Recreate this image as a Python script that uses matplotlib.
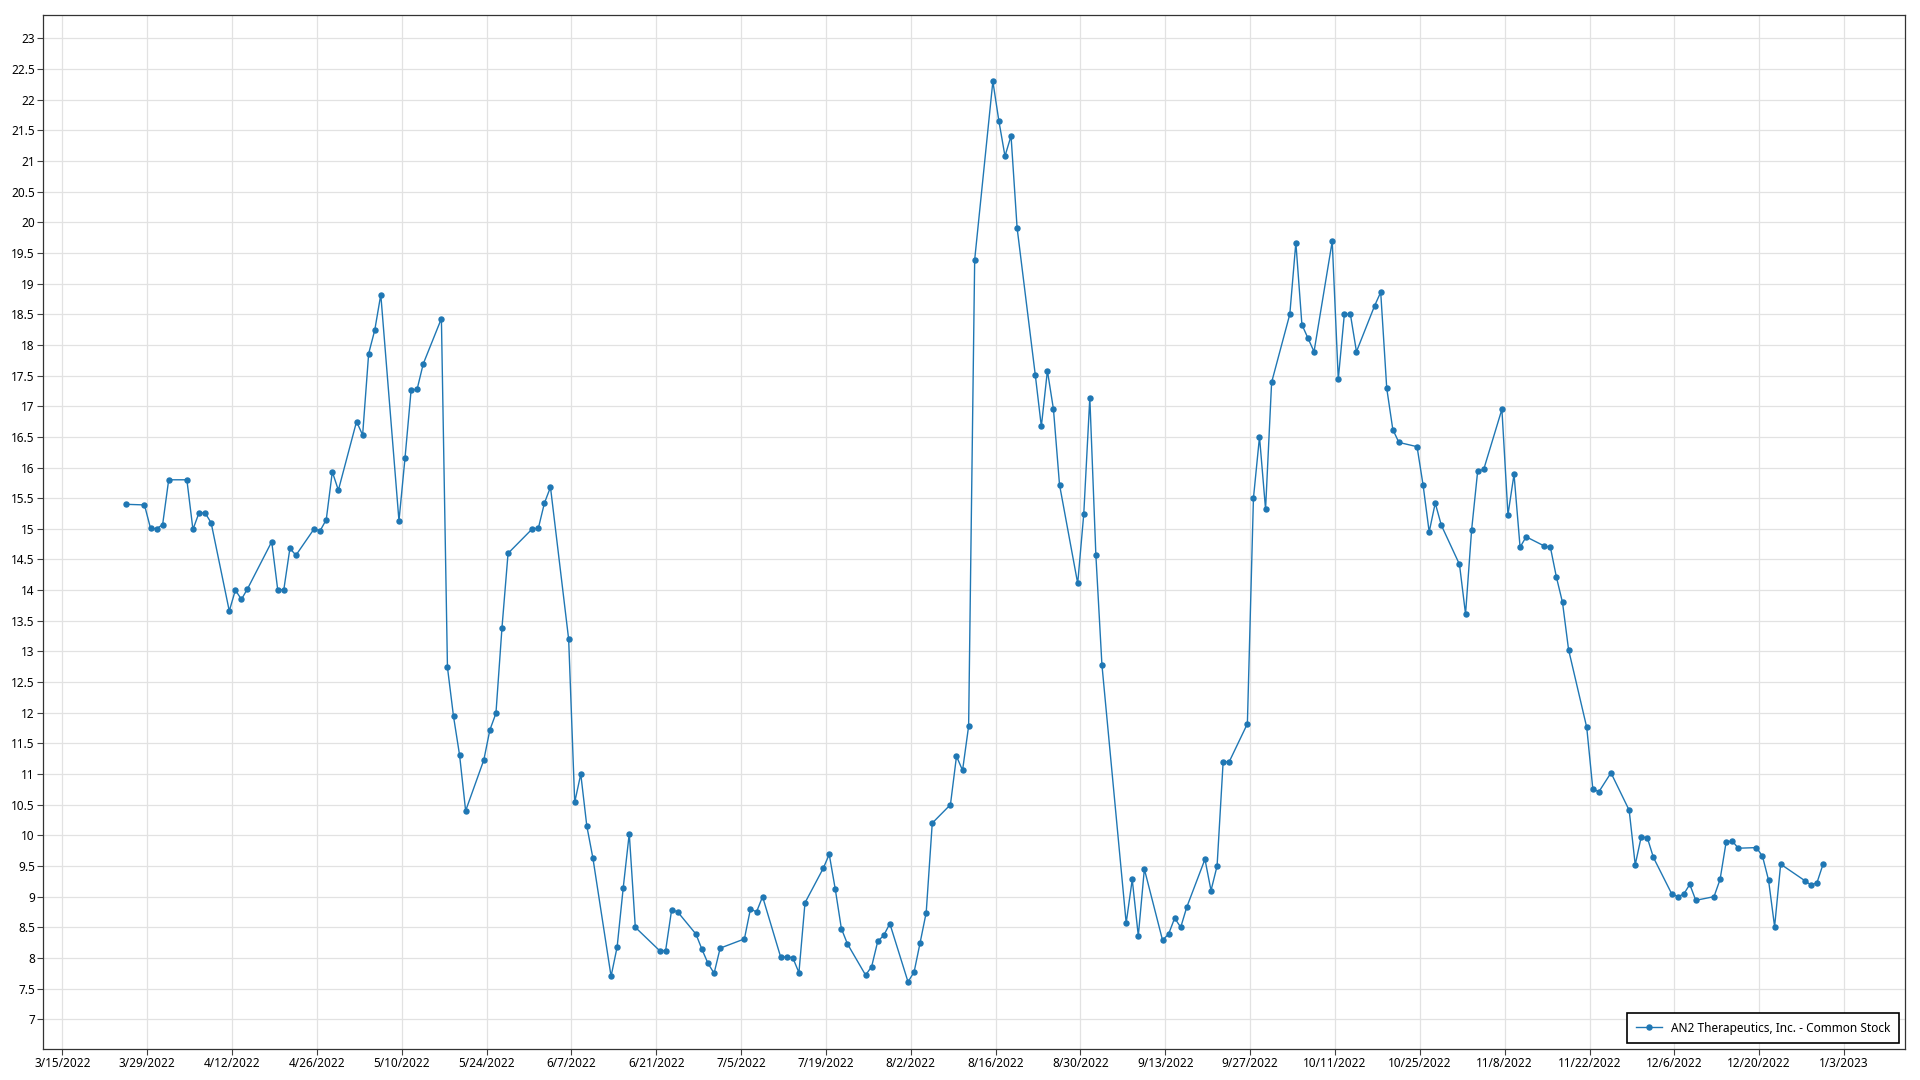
import matplotlib
matplotlib.use("Agg")
import matplotlib.pyplot as plt
import pandas as pd
import numpy as np

# closing prices (2022 trading days)
days = ["3/25", "3/28", "3/29", "3/30", "3/31", "4/1", "4/4", "4/5", "4/6", "4/7",
        "4/8", "4/11", "4/12", "4/13", "4/14", "4/18", "4/19", "4/20", "4/21", "4/22",
        "4/25", "4/26", "4/27", "4/28", "4/29", "5/2", "5/3", "5/4", "5/5", "5/6",
        "5/9", "5/10", "5/11", "5/12", "5/13", "5/16", "5/17", "5/18", "5/19", "5/20",
        "5/23", "5/24", "5/25", "5/26", "5/27", "5/31", "6/1", "6/2", "6/3", "6/6",
        "6/7", "6/8", "6/9", "6/10", "6/13", "6/14", "6/15", "6/16", "6/17", "6/21",
        "6/22", "6/23", "6/24", "6/27", "6/28", "6/29", "6/30", "7/1", "7/5", "7/6",
        "7/7", "7/8", "7/11", "7/12", "7/13", "7/14", "7/15", "7/18", "7/19", "7/20",
        "7/21", "7/22", "7/25", "7/26", "7/27", "7/28", "7/29", "8/1", "8/2", "8/3",
        "8/4", "8/5", "8/8", "8/9", "8/10", "8/11", "8/12", "8/15", "8/16", "8/17",
        "8/18", "8/19", "8/22", "8/23", "8/24", "8/25", "8/26", "8/29", "8/30", "8/31",
        "9/1", "9/2", "9/6", "9/7", "9/8", "9/9", "9/12", "9/13", "9/14", "9/15",
        "9/16", "9/19", "9/20", "9/21", "9/22", "9/23", "9/26", "9/27", "9/28", "9/29",
        "9/30", "10/3", "10/4", "10/5", "10/6", "10/7", "10/10", "10/11", "10/12", "10/13",
        "10/14", "10/17", "10/18", "10/19", "10/20", "10/21", "10/24", "10/25", "10/26", "10/27",
        "10/28", "10/31", "11/1", "11/2", "11/3", "11/4", "11/7", "11/8", "11/9", "11/10",
        "11/11", "11/14", "11/15", "11/16", "11/17", "11/18", "11/21", "11/22", "11/23", "11/25",
        "11/28", "11/29", "11/30", "12/1", "12/2", "12/5", "12/6", "12/7", "12/8", "12/9",
        "12/12", "12/13", "12/14", "12/15", "12/16", "12/19", "12/20", "12/21", "12/22", "12/23",
        "12/27", "12/28", "12/29", "12/30"]

prices = [15.40, 15.39, 15.01, 15.00, 15.07, 15.80, 15.80, 14.99, 15.26, 15.26,
          15.10, 13.66, 14.00, 13.85, 14.02, 14.79, 14.00, 14.01, 14.68, 14.57,
          15.00, 14.97, 15.15, 15.93, 15.63, 16.75, 16.53, 17.86, 18.24, 18.82,
          15.13, 16.16, 17.26, 17.28, 17.69, 18.43, 12.74, 11.94, 11.31, 10.40,
          11.23, 11.72, 11.99, 13.39, 14.60, 15.00, 15.01, 15.42, 15.68, 13.20,
          10.54, 11.00, 10.15, 9.63, 7.70, 8.18, 9.14, 10.03, 8.50, 8.12,
          8.12, 8.79, 8.75, 8.39, 8.14, 7.91, 7.75, 8.16, 8.31, 8.80,
          8.75, 9.00, 8.01, 8.02, 8.00, 7.76, 8.90, 9.46, 9.69, 9.12,
          8.48, 8.23, 7.72, 7.86, 8.27, 8.37, 8.56, 7.61, 7.77, 8.25,
          8.74, 10.20, 10.50, 11.29, 11.06, 11.78, 19.39, 22.30, 21.65, 21.08,
          21.41, 19.91, 17.51, 16.67, 17.58, 16.95, 15.72, 14.11, 15.24, 17.14,
          14.57, 12.78, 8.57, 9.28, 8.36, 9.45, 8.29, 8.39, 8.65, 8.50,
          8.83, 9.61, 9.10, 9.50, 11.20, 11.20, 11.82, 15.50, 16.50, 15.32,
          17.39, 18.50, 19.67, 18.33, 18.11, 17.89, 19.69, 17.44, 18.50, 18.50,
          17.89, 18.64, 18.86, 17.29, 16.62, 16.41, 16.34, 15.71, 14.95, 15.42,
          15.06, 14.42, 13.61, 14.98, 15.94, 15.97, 16.95, 15.23, 15.89, 14.70,
          14.87, 14.72, 14.70, 14.21, 13.80, 13.03, 11.76, 10.76, 10.71, 11.02,
          10.41, 9.52, 9.98, 9.96, 9.64, 9.05, 9.00, 9.04, 9.20, 8.94,
          9.00, 9.28, 9.89, 9.91, 9.79, 9.80, 9.66, 9.27, 8.51, 9.53,
          9.26, 9.19, 9.23, 9.53]

series_name = "AN2 Therapeutics, Inc. - Common Stock"

dates = pd.to_datetime([d + "/2022" for d in days], format="%m/%d/%Y") + pd.Timedelta(hours=13)
xticks = pd.date_range("2022-03-15", "2023-01-03", freq="14D")
yticks = np.arange(7, 23.01, 0.5)

plt.rcParams['font.family'] = ['Noto Sans', 'DejaVu Sans']

fig = plt.figure(figsize=(19.2, 10.8), dpi=100)
ax = fig.add_axes([0.0225, 0.029, 0.9695, 0.957])

ax.plot(dates, prices, color='#1f77b4', lw=1.0, marker='o', markersize=3.6,
        label=series_name)

ax.set_xlim(pd.Timestamp("2022-03-11 20:00"), pd.Timestamp("2023-01-13"))
ax.set_ylim(6.52, 23.38)

ax.set_xticks(xticks)
ax.set_xticklabels([f"{d.month}/{d.day}/{d.year}" for d in xticks])
ax.set_yticks(yticks)
ax.set_yticklabels([f"{v:g}" for v in yticks])
ax.tick_params(labelsize=8.5, length=4, color='#444444', pad=2)

ax.grid(True, color='#e2e2e2', lw=0.9)
ax.set_axisbelow(True)
for s in ax.spines.values():
    s.set_color('#333333')
    s.set_linewidth(0.9)

leg = ax.legend(loc='lower right', fontsize=8.5, fancybox=False, framealpha=1,
                edgecolor='black', borderpad=0.7, handlelength=2.2)
leg.get_frame().set_linewidth(1.2)

fig.savefig("out.png", dpi=100)
